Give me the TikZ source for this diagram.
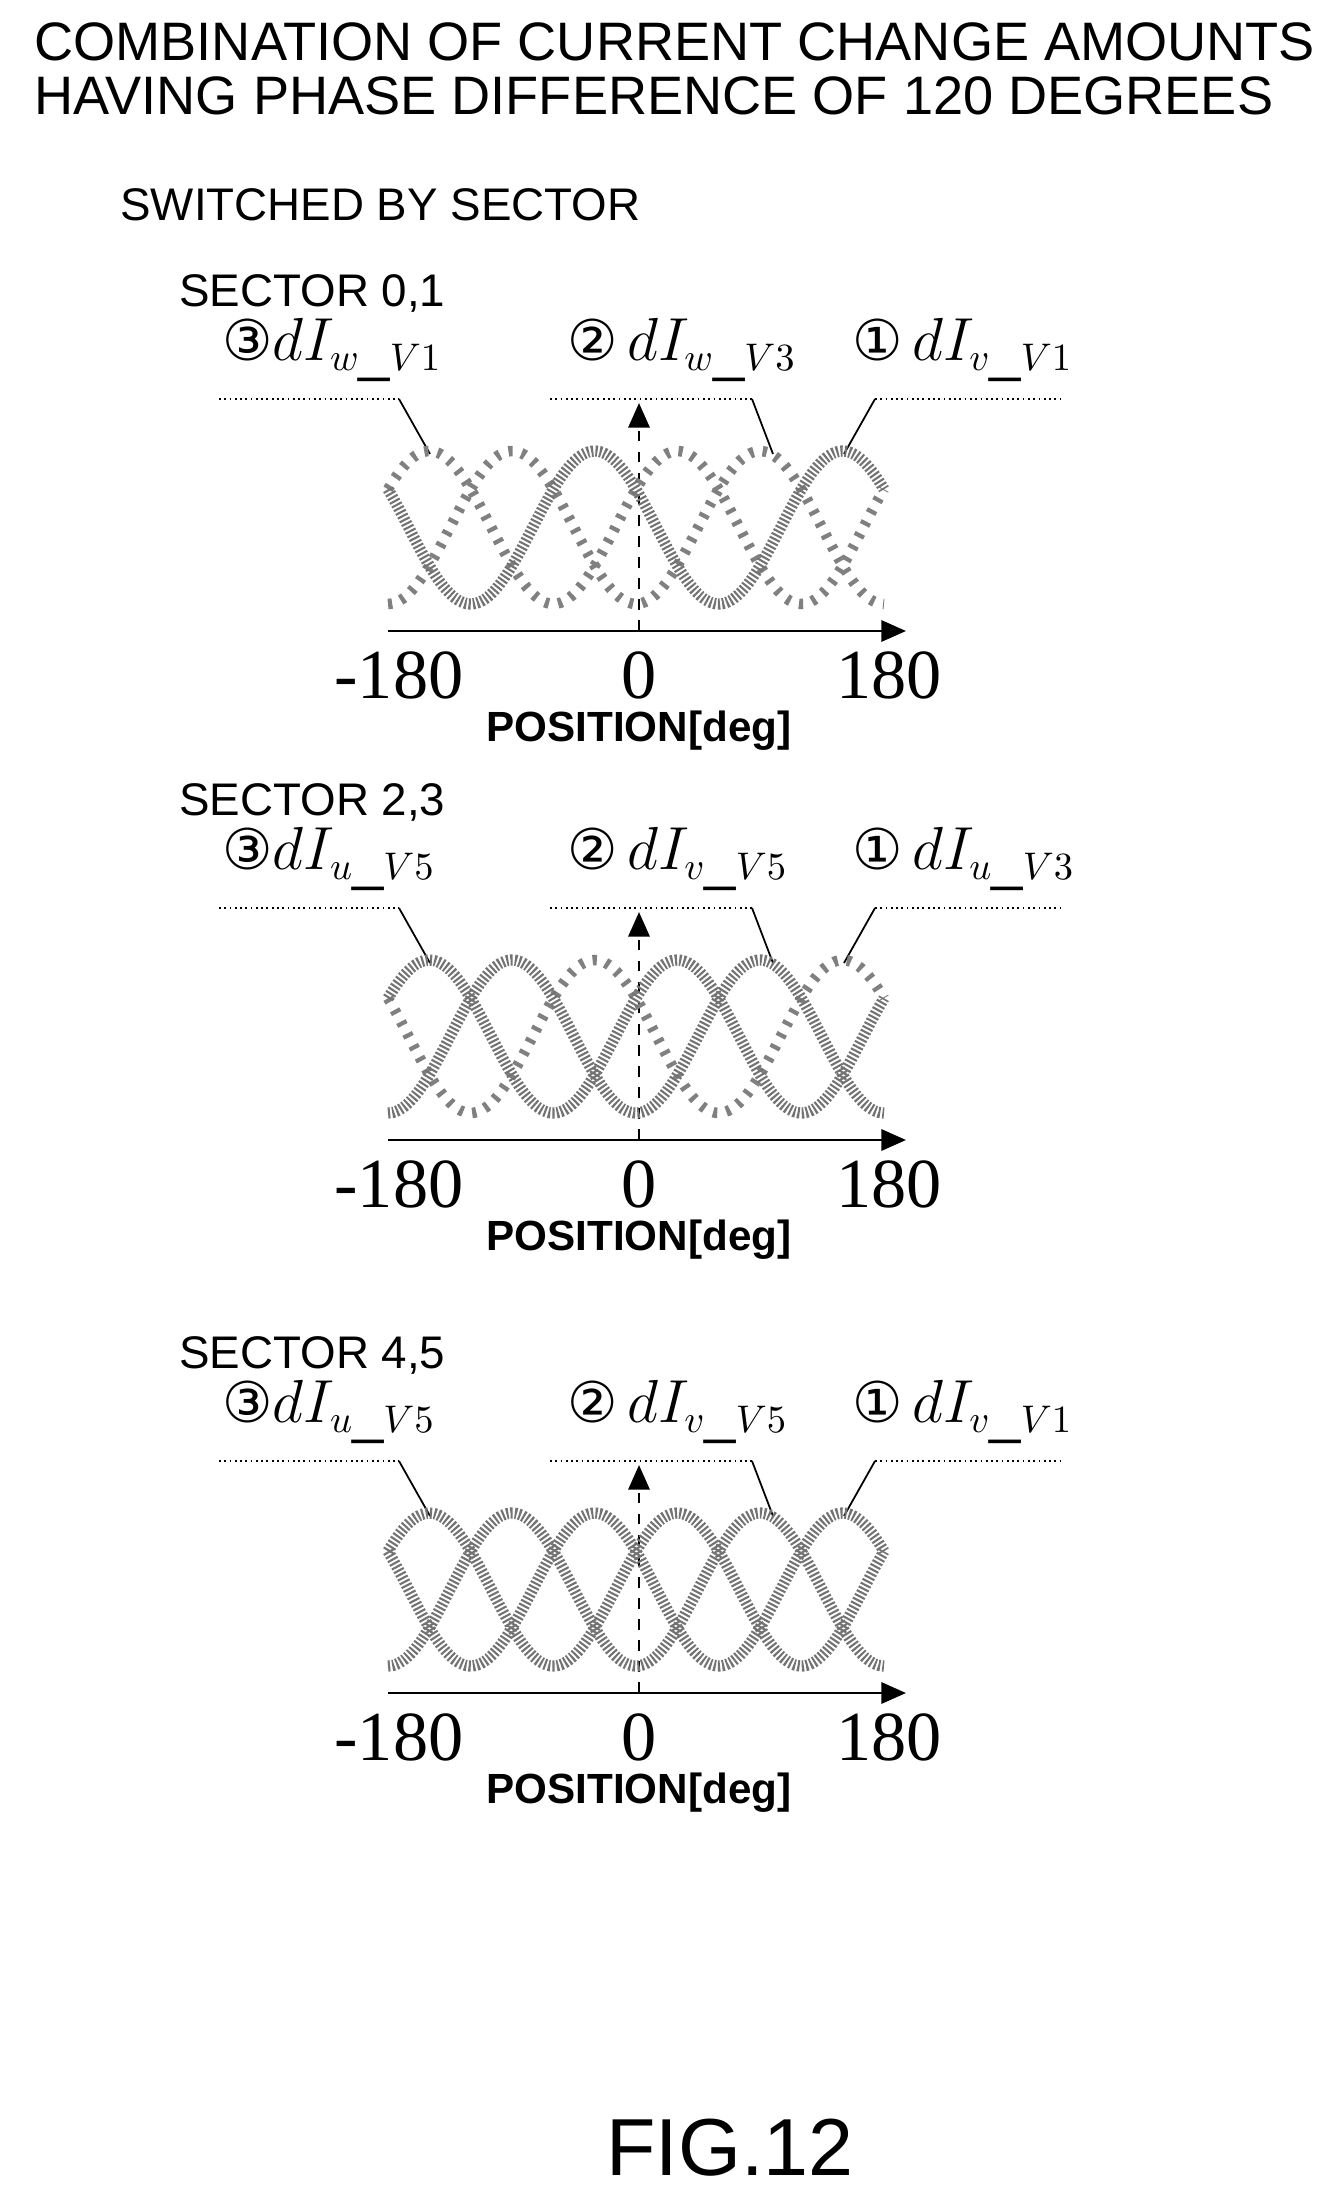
\documentclass[tikz,border=0pt]{standalone}
\usepackage{fontspec}
\setmainfont{Liberation Sans}
\newfontfamily\serif{Liberation Serif}
\newfontfamily\sym{DejaVu Sans}
\usetikzlibrary{arrows.meta}
\tikzset{
  title/.style={anchor=west,font=\fontsize{15.4}{18}\selectfont},
  sector/.style={anchor=west,font=\fontsize{13}{16}\selectfont},
  tick/.style={font=\serif\fontsize{20}{24}\selectfont},
  axlabel/.style={font=\bfseries\fontsize{12}{15}\selectfont},
  phase/.style={anchor=west,font=\fontsize{16}{19}\selectfont},
  leader/.style={line width=0.5pt},
  hatch/.style={draw=black!55,line width=3.2pt,dash pattern=on 0.6pt off 0.6pt},
  dots/.style={draw=black!50,line width=3pt,dash pattern=on 1.2pt off 2.6pt},
  axis/.style={line width=0.8pt,-{Triangle[length=7pt,width=6pt]}},
}
% one phase curve: #1 style, #2 axis y, #3 phase shift
\newcommand{\phasecurve}[3]{%
  \draw[#1] plot[domain=-180:180,samples=90,smooth]
    ({636+\x/180*248},{#2-103.5-76.5*cos(2*(\x-(#3)))});}
% one panel: #1 axis y, #2 name, #3 sector, #4/#5/#6 labels
\newcommand{\panel}[6]{%
  \node[sector] (sec#2) at (167,#1-338) {SECTOR #3};
  \node[phase] (pc#2) at (210,#1-281) {{\sym③}$dI_{#4}$};
  \node[phase] (pb#2) at (555,#1-281) {{\sym②}\,$dI_{#5}$};
  \node[phase] (pa#2) at (840,#1-281) {{\sym①}\,$dI_{#6}$};
  \coordinate (o#2) at (639,#1);
  \coordinate (xe#2) at (906,#1);
  \coordinate (xs#2) at (388,#1);
  \coordinate (ye#2) at (639,#1-228);
  \draw[axis] (xs#2) -- (xe#2);
  \draw[axis,dashed] (o#2) -- (ye#2);
  \node[tick] (tm#2) at (399,#1+44) {-180};
  \node[tick] (tz#2) at (639,#1+44) {0};
  \node[tick] (tp#2) at (889,#1+44) {180};
  \node[axlabel] (pos#2) at (639,#1+100) {POSITION[deg]};
  \draw[leader,densely dotted] (219,#1-232) -- (399,#1-232);
  \draw[leader] (399,#1-232) -- (430,#1-177);
  \draw[leader,densely dotted] (550,#1-232) -- (752,#1-232);
  \draw[leader] (752,#1-232) -- (773,#1-177);
  \draw[leader,densely dotted] (875,#1-232) -- (1062,#1-232);
  \draw[leader] (875,#1-232) -- (844,#1-177);}
\begin{document}
\begin{tikzpicture}[x=0.01cm,y=-0.01cm]
\useasboundingbox (0,0) rectangle (1334,2200);
% heading
\node[title] (t1) at (22,42) {COMBINATION OF CURRENT CHANGE AMOUNTS};
\node[title] (t2) at (22,96) {HAVING PHASE DIFFERENCE OF 120 DEGREES};
\node[sector] (sw) at (108,205) {SWITCHED BY SECTOR};
% sector 0,1
\panel{631}{A}{0,1}{w\_V1}{w\_V3}{v\_V1}
\phasecurve{dots}{631}{30}
\phasecurve{dots}{631}{90}
\phasecurve{hatch}{631}{-30}
% sector 2,3
\panel{1140}{B}{2,3}{u\_V5}{v\_V5}{u\_V3}
\phasecurve{dots}{1140}{-30}
\phasecurve{hatch}{1140}{90}
\phasecurve{hatch}{1140}{30}
% sector 4,5
\panel{1693}{C}{4,5}{u\_V5}{v\_V5}{v\_V1}
\phasecurve{hatch}{1693}{-30}
\phasecurve{hatch}{1693}{90}
\phasecurve{hatch}{1693}{30}
% figure number
\node[font=\fontsize{23}{28}\selectfont] (fig) at (730,2148) {FIG.12};
\end{tikzpicture}
\end{document}
